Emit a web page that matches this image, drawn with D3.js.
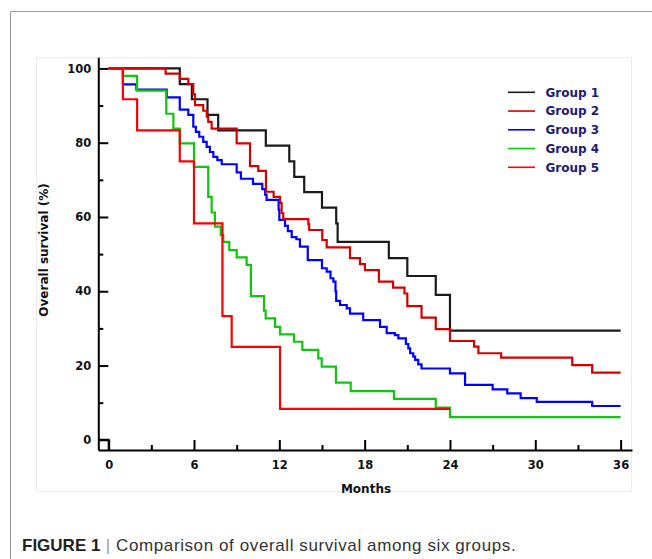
<!DOCTYPE html>
<html>
<head>
<meta charset="utf-8">
<script src="https://cdnjs.cloudflare.com/ajax/libs/d3/7.8.5/d3.min.js"></script>
<style>
  body { margin: 0; background: #fff; }
  svg { display: block; }
</style>
</head>
<body>
<svg id="chart"></svg>
<script>
// groups shown in the legend
var groupNames = ["Group 1", "Group 2", "Group 3", "Group 4", "Group 5"];
var groupColors = ["#1a1a1a", "#d30000", "#0000ff", "#11c411", "#ff0000"];

// survival steps (months, % surviving)
var g1Months = [0, 5.0, 5.85, 6.95, 7.7, 11.05, 12.7, 13.05, 13.75, 15.0, 16.0, 16.1, 19.7, 21.0, 23.0, 24.0, 36];
var g1Surv   = [100, 95.8, 91.7, 87.5, 83.3, 79.2, 75.0, 70.8, 66.7, 62.5, 58.3, 53.3, 48.9, 44.1, 39.0, 29.4, 29.4];

var g2Months = [0, 4.0, 5.0, 5.6, 5.95, 6.07, 6.65, 6.9, 7.0, 7.24, 9.0, 9.94, 10.52, 11.06, 11.6, 12.05, 12.16, 12.28, 14.04, 14.1, 15.02, 15.33, 16.97, 17.67, 18.02, 19.0, 20.0, 20.8, 21.0, 22.0, 23.0, 24.0, 25.7, 26.0, 27.6, 32.6, 34.0, 36];
var g2Surv   = [100, 98.6, 97.2, 95.8, 93.0, 90.1, 88.6, 87.0, 85.6, 83.8, 79.8, 73.7, 72.4, 66.8, 65.4, 63.8, 61.0, 59.4, 58.0, 56.5, 53.8, 51.8, 48.9, 47.3, 45.7, 42.6, 41.0, 39.4, 36.0, 32.9, 29.8, 26.6, 25.1, 23.3, 22.1, 20.1, 18.1, 18.1];

var g3Months = [0, 1.0, 1.95, 4.08, 5.0, 5.6, 5.95, 6.13, 6.37, 6.65, 6.89, 7.12, 7.36, 7.64, 7.95, 9.0, 9.3, 10.15, 10.8, 11.0, 11.1, 11.95, 12.0, 12.4, 12.6, 12.87, 13.2, 13.45, 14.0, 15.0, 15.33, 15.6, 15.8, 15.95, 16.0, 16.27, 16.74, 16.97, 17.9, 19.08, 19.55, 20.13, 20.37, 20.9, 21.07, 21.2, 21.42, 21.55, 21.77, 22.0, 24.0, 25.06, 27.0, 28.03, 28.97, 30.1, 34.0, 36];
var g3Surv   = [100, 95.7, 94.3, 92.2, 88.9, 87.5, 84.3, 82.9, 81.6, 80.2, 78.9, 77.5, 76.2, 75.3, 74.2, 72.0, 70.3, 68.9, 67.5, 66.0, 64.6, 62.0, 59.2, 57.6, 56.2, 54.6, 54.0, 52.0, 48.4, 46.2, 45.3, 43.5, 42.6, 40.0, 37.4, 36.3, 35.4, 34.0, 32.2, 30.4, 28.7, 28.2, 27.3, 25.8, 24.6, 23.3, 22.4, 21.5, 20.3, 19.2, 17.9, 14.8, 13.6, 12.5, 11.2, 10.2, 9.1, 9.1];

var g4Months = [0, 1.0, 2.0, 4.05, 4.55, 5.0, 6.0, 7.0, 7.24, 7.47, 7.88, 8.06, 8.48, 9.0, 9.7, 10.0, 10.92, 11.04, 11.7, 12.05, 13.03, 13.62, 14.74, 14.98, 15.98, 17.02, 20.06, 23.0, 24.0, 36];
var g4Surv   = [100, 98.0, 94.0, 87.8, 83.8, 79.8, 73.5, 65.4, 61.2, 57.4, 55.1, 53.3, 51.1, 49.1, 47.1, 38.7, 34.8, 32.7, 30.4, 28.4, 26.4, 24.2, 21.9, 19.7, 15.4, 13.1, 11.0, 8.7, 6.1, 6.1];

var g5Months = [0, 1.0, 2.0, 5.0, 6.0, 8.0, 8.65, 12.05, 24.0];
var g5Surv   = [100, 91.7, 83.3, 75.0, 58.3, 33.3, 25.0, 8.3, 8.3];

// the little step sitting on the origin
var originMonths = [-0.73, 0, 0];
var originSurv   = [0, 0, -2.75];

// ticks
var xMajorTicks = [0, 6, 12, 18, 24, 30, 36];
var xMinorTicks = [3, 9, 15, 21, 27, 33];
var yMajorTicks = [0, 20, 40, 60, 80, 100];
var yMinorTicks = [10, 30, 50, 70, 90];

var svgWidth = 652, svgHeight = 559;
var svg = d3.select("#chart")
    .attr("width", svgWidth)
    .attr("height", svgHeight)
    .style("font-family", "'DejaVu Sans', Verdana, sans-serif");

// page frame lines (left + top) and the pale box round the figure
svg.append("path")
    .attr("d", "M10.5,559V11.5H652")
    .attr("fill", "none")
    .attr("stroke", "#9a9a9a")
    .attr("stroke-width", 1);

svg.append("rect")
    .attr("x", 36.5).attr("y", 57.5)
    .attr("width", 595).attr("height", 434)
    .attr("fill", "none")
    .attr("stroke", "#ececec");

var x = d3.scaleLinear().domain([-0.73, 36.8]).range([98.3, 632]);
var y = d3.scaleLinear().domain([-2.75, 103]).range([450, 57.3]);

// axes -- ticks point into the plot
svg.append("g")
    .attr("class", "axis")
    .attr("transform", "translate(" + x.range()[0] + ",0)")
    .call(d3.axisLeft(y).tickValues(yMajorTicks).tickSize(-10).tickSizeOuter(0).tickPadding(7));
svg.append("g")
    .attr("class", "axis")
    .attr("transform", "translate(" + x.range()[0] + ",0)")
    .call(d3.axisLeft(y).tickValues(yMinorTicks).tickSize(-5).tickSizeOuter(0).tickFormat(""))
    .select(".domain").remove();

svg.append("g")
    .attr("class", "axis")
    .attr("transform", "translate(0," + y.range()[0] + ")")
    .call(d3.axisBottom(x).tickValues(xMajorTicks).tickSize(-10).tickSizeOuter(0).tickPadding(11));
svg.append("g")
    .attr("class", "axis")
    .attr("transform", "translate(0," + y.range()[0] + ")")
    .call(d3.axisBottom(x).tickValues(xMinorTicks).tickSize(-5).tickSizeOuter(0).tickFormat(""))
    .select(".domain").remove();

// d3 puts its own font on the axis group, drop it so ours wins
svg.selectAll(".axis")
    .attr("font-family", null)
    .attr("font-size", null);
svg.selectAll(".domain, .tick line")
    .attr("stroke", "#000")
    .attr("stroke-width", 2);
svg.selectAll(".tick text")
    .attr("fill", "#111")
    .style("font-size", "11.5px")
    .style("font-weight", "bold");

// axis titles
svg.append("text")
    .attr("transform", "translate(48,250) rotate(-90)")
    .attr("text-anchor", "middle")
    .style("font-size", "12px")
    .style("font-weight", "bold")
    .attr("fill", "#111")
    .text("Overall survival (%)");

svg.append("text")
    .attr("x", 366).attr("y", 493)
    .attr("text-anchor", "middle")
    .style("font-size", "12px")
    .style("font-weight", "bold")
    .attr("fill", "#111")
    .text("Months");

// KM step lines
var step = d3.line()
    .x(function(d) { return x(d[0]); })
    .y(function(d) { return y(d[1]); })
    .curve(d3.curveStepAfter);

function pairs(ms, ss) { return ms.map(function(m, i) { return [m, ss[i]]; }); }

svg.append("path")
    .datum(pairs(originMonths, originSurv))
    .attr("fill", "none")
    .attr("stroke", "#000")
    .attr("stroke-width", 2)
    .attr("d", d3.line().x(function(d) { return x(d[0]); }).y(function(d) { return y(d[1]); }));

var curves = [
  pairs(g1Months, g1Surv),
  pairs(g2Months, g2Surv),
  pairs(g3Months, g3Surv),
  pairs(g4Months, g4Surv),
  pairs(g5Months, g5Surv)
];
var drawOrder = [0, 2, 3, 1, 4];

drawOrder.forEach(function(i) {
  svg.append("path")
      .datum(curves[i])
      .attr("fill", "none")
      .attr("stroke", groupColors[i])
      .attr("stroke-width", 2.2)
      .attr("d", step);
});

// legend
var legend = svg.append("g");
groupNames.forEach(function(name, i) {
  var ly = 92.3 + i * 18.75;
  legend.append("line")
      .attr("x1", 508).attr("x2", 535)
      .attr("y1", ly).attr("y2", ly)
      .attr("stroke", groupColors[i])
      .attr("stroke-width", 1.6);
  legend.append("text")
      .attr("x", 545.5).attr("y", ly + 4.3)
      .style("font-size", "12px")
      .style("font-weight", "bold")
      .attr("fill", "#1c1c78")
      .text(name);
});

// caption under the figure
var cap = svg.append("text")
    .attr("x", 22).attr("y", 551)
    .style("font-family", "'Liberation Sans', Arial, sans-serif")
    .style("font-size", "17px")
    .attr("fill", "#333");
cap.append("tspan").style("font-weight", "bold").attr("fill", "#222").text("FIGURE 1");
cap.append("tspan").attr("fill", "#999").style("letter-spacing", "0.6px").text(" | ");
cap.append("tspan").style("letter-spacing", "0.6px").text("Comparison of overall survival among six groups.");
</script>
</body>
</html>
